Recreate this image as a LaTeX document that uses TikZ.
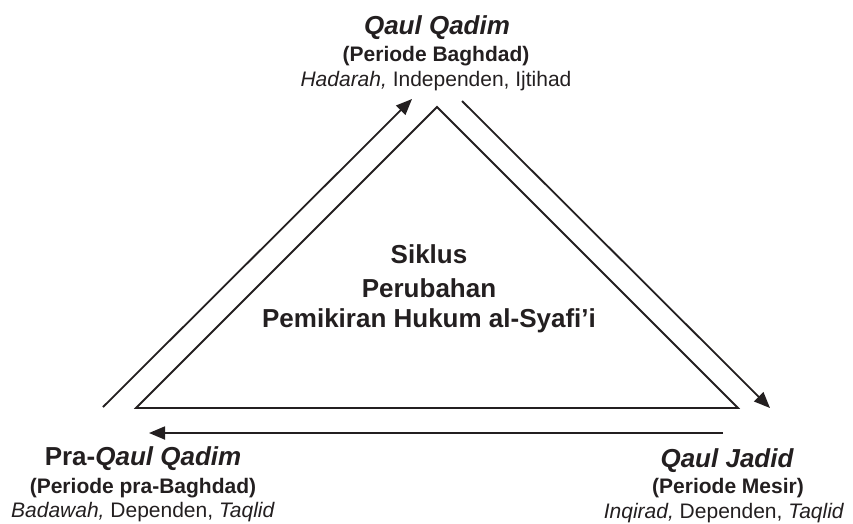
\documentclass[tikz,border=0pt]{standalone}
\usepackage{fontspec}
\setmainfont{Liberation Sans}
\usetikzlibrary{arrows.meta}
\definecolor{ink}{HTML}{231F20}
\tikzset{
	lbl/.style={anchor=base, inner sep=0pt, text=ink},
	ttl/.style={lbl, font=\fontsize{26}{30}\selectfont\bfseries},
	prd/.style={lbl, font=\fontsize{21}{25}\selectfont\bfseries},
	atr/.style={lbl, font=\fontsize{21}{25}\selectfont},
	ctr/.style={lbl, font=\fontsize{26}{30}\selectfont\bfseries},
	edge/.style={line width=1.8pt, draw=ink},
	flow/.style={edge, -{Triangle[length=16pt,width=13pt]}}
}

\begin{document}
\begin{tikzpicture}[x=1pt, y=-1pt]
		%%%%% START %%%%%
		\useasboundingbox (0, 0) rectangle (853, 523);
		
		% triangle corners
		\coordinate (apex) at (437, 107);
		\coordinate (bl) at (136, 408);
		\coordinate (br) at (738, 408);
		\draw[edge, line join=miter] (apex) -- (br) -- (bl) -- cycle;
		
		% cycle arrows
		\coordinate (upFrom) at (103, 407);
		\coordinate (upTo) at (412, 99);
		\coordinate (downFrom) at (462, 101);
		\coordinate (downTo) at (770, 408);
		\coordinate (backFrom) at (723, 433);
		\coordinate (backTo) at (149, 433);
		\draw[flow] (upFrom) -- (upTo);
		\draw[flow] (downFrom) -- (downTo);
		\draw[flow] (backFrom) -- (backTo);
		
		% top: qaul qadim
		\node[ttl] (qadimT) at (437, 34) {\itshape Qaul Qadim};
		\node[prd] (qadimP) at (436, 61) {(Periode Baghdad)};
		\node[atr] (qadimA) at (436, 86) {\textit{Hadarah,} Independen, Ijtihad};
		
		% bottom left: pra-qaul qadim
		\node[ttl] (praT) at (143, 465) {Pra-\textit{Qaul Qadim}};
		\node[prd] (praP) at (143, 493) {(Periode pra-Baghdad)};
		\node[atr] (praA) at (143, 517) {\textit{Badawah,} Dependen, \textit{Taqlid}};
		
		% bottom right: qaul jadid
		\node[ttl] (jadidT) at (727, 467) {\itshape Qaul Jadid};
		\node[prd] (jadidP) at (728, 493) {(Periode Mesir)};
		\node[atr] (jadidA) at (724, 518) {\textit{Inqirad,} Dependen, \textit{Taqlid}};
		
		% centre
		\node[ctr] (siklus) at (429, 263) {Siklus};
		\node[ctr] (ubah) at (429, 297) {Perubahan};
		\node[ctr] (pikir) at (429, 327) {Pemikiran Hukum al-Syafi’i};
		
		%%%%% END %%%%%
	\end{tikzpicture}
\end{document}
